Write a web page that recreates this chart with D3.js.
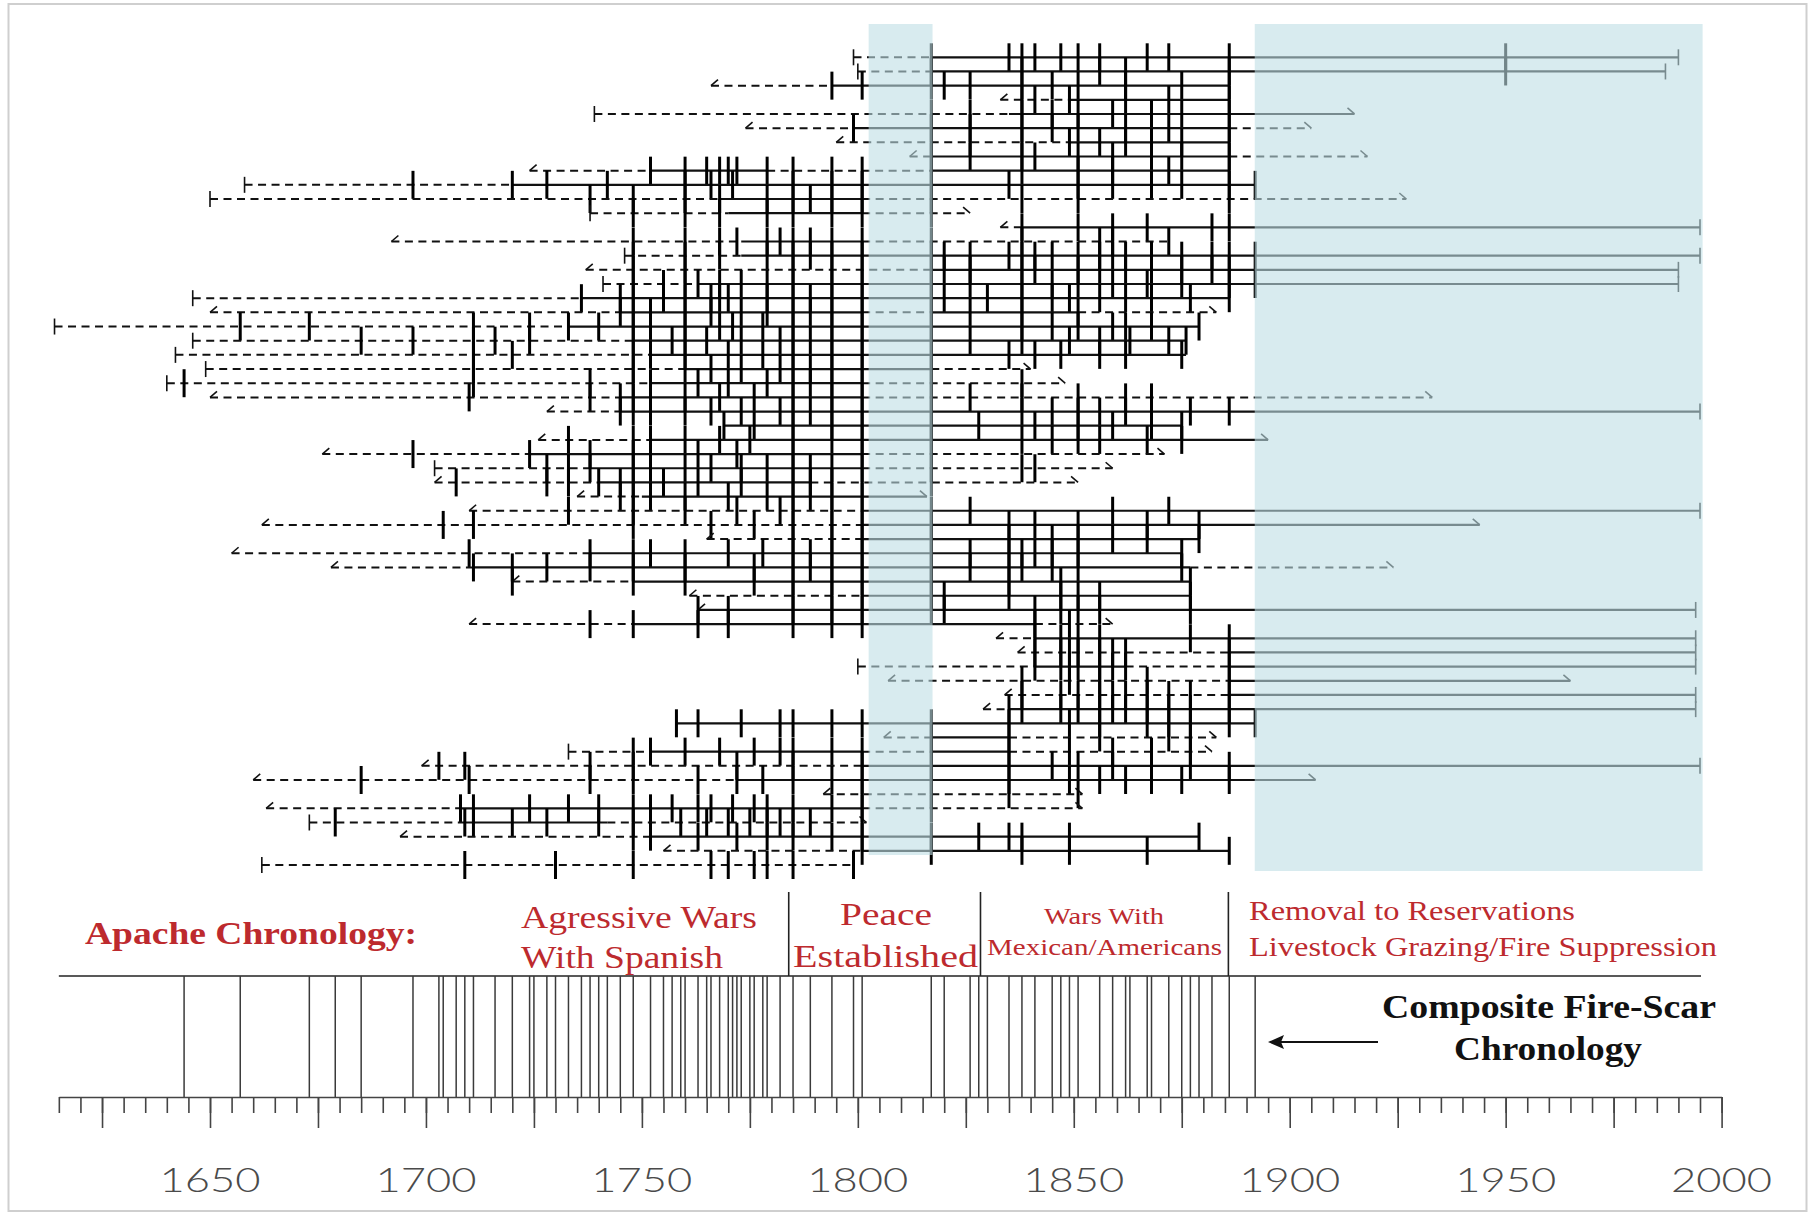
<!DOCTYPE html>
<html>
<head>
<meta charset="utf-8">
<script src="https://cdn.jsdelivr.net/npm/d3@7"></script>
<style>
  html, body { margin: 0; padding: 0; background: #fff; }
  svg { display: block; }
</style>
</head>
<body>
<svg id="chart" width="1820" height="1214"></svg>
<script>
// ---- Fire-scar record, one entry per sampled tree (top to bottom) ----
// first ring year of each series; kind "p" = pith date, "i" = inner ring (pith not reached)
const treeStart = [1799,1800,1766,1833,1739,1774,1795,1812,1724,1658,
                   1650,1738,1833,1692,1746,1737,1741,1646,1650,1614,
                   1646,1642,1649,1640,1650,1728,1769,1726,1676,1702,
                   1702,1735,1710,1662,1765,1655,1678,1720,1761,1763,
                   1710,1832,1837,1800,1807,1834,1829,1758,1806,1733,
                   1699,1660,1792,1663,1673,1694,1755,1662];
const treeStartKind = ["p","p","i","i","p","i","i","i","i","p",
                       "p","p","i","i","p","i","p","p","i","p",
                       "p","p","p","p","i","i","p","i","i","p",
                       "i","i","i","i","i","i","i","i","i","i",
                       "i","i","i","p","i","i","i","p","i","p",
                       "i","i","i","i","p","i","i","p"];
// last ring year; kind "b" = bark date, "o" = outer ring (bark not reached), "n" = ends on a scar
const treeEnd = [1990,1987,1886,1886,1915,1905,1886,1918,1886,1892,
                 1927,1826,1995,1872,1995,1990,1990,1886,1883,1879,
                 1876,1876,1840,1848,1933,1995,1875,1895,1871,1859,
                 1851,1816,1995,1944,1879,1875,1924,1877,1877,1994,
                 1859,1994,1994,1994,1965,1994,1994,1892,1883,1882,
                 1995,1906,1852,1852,1802,1879,1886,1799];
const treeEndKind = ["b","b","n","n","o","o","n","o","n","b",
                     "o","o","b","n","b","b","b","n","o","n",
                     "n","n","o","o","o","b","n","o","o","o",
                     "o","o","b","o","b","n","o","n","n","b",
                     "o","b","b","b","o","b","b","b","o","o",
                     "b","o","o","o","o","b","n","b"];
// recorder years (solid); everything else in the series is non-recording (dashed)
const treeRecorder = [
  [[1817,1990]],[[1817,1987]],[[1794,1886]],[[1849,1886]],[[1835,1915]],
  [[1799,1886]],[[1849,1886]],[[1817,1886]],[[1752,1779],[1817,1886]],[[1720,1892]],
  [[1768,1801]],[[1770,1801]],[[1838,1995]],[[1773,1801]],[[1773,1995]],
  [[1817,1990]],[[1763,1990]],[[1736,1886]],[[1745,1801],[1817,1851]],[[1733,1879]],
  [[1748,1876]],[[1752,1876]],[[1760,1817]],[[1752,1801]],[[1745,1801]],
  [[1745,1995]],[[1769,1875]],[[1752,1895]],[[1724,1801]],[[1738,1801]],
  [[1740,1789]],[[1750,1816]],[[1801,1995]],[[1801,1944]],[[1801,1879]],
  [[1738,1875]],[[1711,1877]],[[1748,1877]],[[1801,1877]],[[1763,1994]],
  [[1748,1841]],[[1841,1994]],[[1886,1994]],[[1841,1862],[1886,1994]],[[1886,1965]],
  [[1886,1994]],[[1835,1994]],[[1758,1892]],[[1817,1835]],[[1752,1801],[1817,1835]],
  [[1801,1995]],[[1772,1906]],[],[[1708,1801]],[[1709,1742]],
  [[1752,1879]],[[1801,1886]],[]
];
// fire-scar years recorded by each tree
const treeScars = [
  [1817,1835,1838,1841,1847,1851,1856,1867,1872,1886,1950],
  [1817,1838,1856,1862,1886,1950],
  [1794,1801,1817,1820,1826,1838,1845,1851,1862,1875,1886],
  [1838,1841,1849,1862,1872,1886],
  [1817,1826,1838,1845,1851,1859,1868,1875,1886],
  [1799,1817,1826,1838,1845,1851,1862,1872,1886],
  [1817,1826,1838,1849,1856,1862,1868,1875,1886],
  [1817,1826,1838,1841,1851,1859,1868,1875,1886],
  [1752,1760,1765,1768,1770,1772,1779,1785,1794,1801,1817,1838,1851,1859,1872,1886],
  [1697,1720,1728,1742,1760,1766,1771,1785,1794,1801,1817,1835,1851,1859,1868,1875,1886,1892],
  [1738,1748,1760,1768,1779,1785,1789,1794,1801,1817,1838,1851,1886],
  [1748,1760,1768,1779,1785,1794,1801,1817],
  [1838,1851,1859,1867,1882,1886],
  [1748,1760,1768,1772,1779,1782,1785,1789,1794,1801,1817,1838,1856,1859,1872],
  [1748,1760,1768,1779,1785,1789,1794,1801,1817,1820,1826,1835,1838,1841,1845,1851,1856,1859,1862,1868,1875,1882,1886,1892],
  [1748,1760,1785,1794,1801,1817,1820,1826,1838,1841,1851,1856,1862,1868,1875,1882,1886],
  [1748,1755,1760,1763,1768,1773,1779,1785,1794,1801,1817,1826,1838,1845,1851,1859,1867,1875,1886,1892],
  [1736,1745,1748,1755,1760,1766,1768,1770,1779,1785,1789,1794,1801,1817,1820,1830,1838,1845,1849,1856,1862,1868,1877,1886],
  [1745,1748,1752,1760,1766,1773,1779,1785,1789,1794,1801,1817,1826,1838,1851],
  [1657,1673,1711,1724,1733,1740,1748,1752,1760,1768,1771,1778,1785,1794,1801,1817,1838,1845,1851,1859,1862,1868,1879],
  [1685,1697,1711,1716,1724,1748,1757,1760,1765,1773,1782,1785,1789,1794,1801,1817,1826,1838,1849,1856,1863,1872,1876],
  [1711,1720,1748,1752,1760,1770,1778,1785,1794,1801,1817,1835,1841,1847,1856,1862,1875],
  [1711,1748,1760,1766,1773,1782,1785,1789,1794,1801,1817],
  [1644,1711,1738,1748,1752,1763,1770,1779,1785,1789,1794,1801,1817,1838],
  [1710,1738,1745,1748,1752,1760,1768,1776,1785,1794,1801,1817,1826,1838,1851,1862,1868],
  [1745,1748,1752,1760,1766,1773,1782,1785,1789,1794,1801,1817,1838,1845,1851,1856,1862,1868,1877,1886],
  [1769,1776,1785,1794,1801,1817,1828,1841,1851,1859,1868,1875],
  [1733,1748,1752,1760,1768,1775,1785,1794,1801,1817,1838,1845,1851,1856,1867,1875],
  [1697,1724,1738,1748,1752,1763,1772,1785,1801,1817],
  [1728,1733,1738,1748,1752,1760,1766,1773,1779,1785,1789,1794,1801,1817,1838,1841],
  [1707,1728,1733,1740,1745,1748,1755,1763,1773,1785,1789,1794,1801,1817],
  [1745,1748,1752,1760,1770,1779,1785,1789,1794,1801],
  [1733,1748,1760,1772,1782,1785,1794,1801,1817,1826,1859,1872],
  [1704,1711,1748,1766,1776,1785,1794,1801,1817,1835,1841,1851,1867,1879],
  [1785,1794,1801,1817,1835,1845,1851,1859,1867,1879],
  [1710,1738,1748,1752,1760,1770,1778,1785,1789,1794,1801,1817,1826,1835,1838,1841,1845,1851,1875],
  [1711,1720,1728,1738,1748,1760,1776,1785,1789,1794,1801,1817,1826,1835,1838,1845,1851,1875],
  [1720,1748,1760,1776,1785,1794,1801,1817,1835,1847,1877],
  [1785,1794,1801,1817,1820,1835,1847,1851,1856,1877],
  [1763,1770,1785,1794,1801,1817,1820,1841,1847,1851,1856,1877],
  [1738,1748,1763,1770,1785,1794,1801,1841,1849],
  [1841,1847,1851,1856,1877,1886],
  [1841,1847,1849,1851,1856,1859,1862,1886],
  [1841,1847,1849,1851,1856,1859,1862,1886],
  [1838,1849,1856,1867,1886],
  [1838,1847,1851,1856,1859,1862,1867,1872,1877,1886],
  [1835,1838,1847,1851,1856,1859,1862,1867,1872,1877,1886],
  [1758,1763,1773,1782,1785,1794,1801,1817,1835,1849,1856,1867,1872,1877,1886,1892],
  [1817,1835,1856,1872,1877],
  [1748,1752,1760,1768,1776,1782,1785,1794,1801,1817,1835,1849,1859,1868,1877],
  [1703,1709,1738,1748,1772,1785,1801,1817,1835,1845,1851,1859,1868,1877,1886],
  [1685,1710,1738,1748,1763,1772,1778,1785,1794,1801,1817,1835,1849,1856,1862,1868,1875,1886],
  [1801,1817,1835,1851],
  [1708,1711,1724,1733,1740,1748,1752,1757,1763,1766,1771,1776,1779,1785,1794,1801,1817],
  [1679,1709,1711,1720,1728,1740,1748,1759,1765,1770,1775,1779,1782,1785,1789,1801],
  [1748,1752,1763,1772,1779,1785,1794,1801,1817,1828,1835,1838,1849,1879],
  [1801,1817,1838,1849,1867,1886],
  [1709,1730,1748,1766,1770,1776,1779,1785,1799]
];

// composite fire-scar chronology (site-wide fire years)
const compositeYears = [1644,1657,1673,1679,1685,1697,1703,1704,1707,1709,1711,1716,1720,1724,1725,
  1728,1730,1733,1736,1738,1740,1742,1745,1748,1752,1755,1757,1759,1760,1763,1765,1766,1768,
  1770,1771,1772,1773,1775,1776,1778,1779,1782,1785,1789,1794,1799,1801,1817,1820,1826,1828,
  1830,1835,1838,1841,1845,1847,1849,1851,1856,1859,1862,1863,1867,1868,1872,1875,1877,1879,
  1882,1886,1892];

// historical periods
const periodBreaks = [1784, 1828.4, 1885.8];
const shadedPeriods = [[1802.5, 1817.3], [1891.9, 1995.6]];

// axis
const axisLabels = [1650, 1700, 1750, 1800, 1850, 1900, 1950, 2000];
const minorTicks = d3.range(1615, 2001, 5);
const majorTicks = d3.range(1625, 2001, 25);

// ---- scales ----
const x = d3.scaleLinear().domain([1650, 2000]).range([210, 1721.6]);
const y = d3.scalePoint().domain(d3.range(treeStart.length)).range([57.3, 865]);

const svg = d3.select("#chart");
const ink = "#111";

// frame
svg.append("rect")
  .attr("x", 8.5).attr("y", 4).attr("width", 1798).attr("height", 1207)
  .attr("fill", "none").attr("stroke", "#cfcfcf").attr("stroke-width", 2);

// ---- tree series ----
function pieces(i) {
  const s = treeStart[i], e = treeEnd[i];
  const spans = treeRecorder[i]
    .map(([a, b]) => [Math.max(a, s), Math.min(b, e)])
    .filter(([a, b]) => b > a)
    .sort((p, q) => p[0] - q[0]);
  const out = [];
  let cur = s;
  for (const [a, b] of spans) {
    if (a > cur) out.push({ a: cur, b: a, solid: false });
    out.push({ a: Math.max(a, cur), b, solid: true });
    cur = b;
  }
  if (cur < e) out.push({ a: cur, b: e, solid: false });
  return out;
}

const trees = svg.append("g").attr("class", "trees");
const rows = trees.selectAll("g.tree")
  .data(d3.range(treeStart.length))
  .join("g").attr("class", "tree")
  .attr("transform", i => `translate(0,${y(i)})`);

rows.selectAll("line.seg")
  .data(i => pieces(i))
  .join("line").attr("class", "seg")
  .attr("x1", d => x(d.a)).attr("x2", d => x(d.b))
  .attr("y1", 0).attr("y2", 0)
  .attr("stroke", ink)
  .attr("stroke-width", d => d.solid ? 2.2 : 2)
  .attr("stroke-dasharray", d => d.solid ? null : "8,5.5");

// pith / inner-ring markers
rows.append("path")
  .attr("d", i => {
    const sx = x(treeStart[i]);
    return treeStartKind[i] === "p" ? `M${sx},-8V8` : `M${sx},0L${sx + 7},-6`;
  })
  .attr("stroke", ink).attr("stroke-width", 1.6).attr("fill", "none");

// bark / outer-ring markers
rows.filter(i => treeEndKind[i] !== "n").append("path")
  .attr("d", i => {
    const ex = x(treeEnd[i]);
    return treeEndKind[i] === "b" ? `M${ex},-8V8` : `M${ex - 7},-6L${ex},0`;
  })
  .attr("stroke", ink).attr("stroke-width", 1.6).attr("fill", "none");

// fire scars
rows.selectAll("line.scar")
  .data(i => treeScars[i])
  .join("line").attr("class", "scar")
  .attr("x1", d => x(d)).attr("x2", d => x(d))
  .attr("y1", -14).attr("y2", 14)
  .attr("stroke", "#000").attr("stroke-width", 3);

// ---- shaded periods (translucent, so series beneath read as grey) ----
svg.append("g").selectAll("rect")
  .data(shadedPeriods)
  .join("rect")
  .attr("x", d => x(d[0]))
  .attr("width", d => x(d[1]) - x(d[0]))
  .attr("y", 24)
  .attr("height", (d, k) => k === 0 ? 831 : 847)
  .attr("fill", "rgb(190,222,229)")
  .attr("fill-opacity", 0.6);

// ---- period labels ----
const red = "#bd2a2e";
const serif = "'Liberation Serif', 'Times New Roman', serif";
const labels = svg.append("g").attr("font-family", serif);
function label(txt, x0, base, len, size, weight, fill) {
  labels.append("text")
    .attr("x", x0).attr("y", base)
    .attr("font-size", size).attr("font-weight", weight || "normal")
    .attr("fill", fill || red)
    .attr("textLength", len).attr("lengthAdjust", "spacingAndGlyphs")
    .text(txt);
}
label("Apache Chronology:", 85, 944, 332, 32, "bold");
label("Agressive Wars", 521, 928, 236, 31);
label("With Spanish", 521, 968, 202, 31);
label("Peace", 840, 925, 92, 31);
label("Established", 793, 967, 185, 31);
label("Wars With", 1044, 924, 120, 24);
label("Mexican/Americans", 987, 955, 235, 24);
label("Removal to Reservations", 1249, 920, 326, 28);
label("Livestock Grazing/Fire Suppression", 1249, 956, 468, 28);
label("Composite Fire-Scar", 1382, 1018, 334, 34, "bold", "#111");
label("Chronology", 1454, 1060, 188, 34, "bold", "#111");

// period separators and baseline of composite panel
svg.append("g").selectAll("line")
  .data(periodBreaks)
  .join("line")
  .attr("x1", d => x(d)).attr("x2", d => x(d))
  .attr("y1", 892).attr("y2", 976)
  .attr("stroke", "#222").attr("stroke-width", 1.6);
svg.append("line")
  .attr("x1", x(1615)).attr("x2", 1701)
  .attr("y1", 976).attr("y2", 976)
  .attr("stroke", "#222").attr("stroke-width", 1.6);

// arrow pointing at composite
svg.append("line")
  .attr("x1", 1378).attr("x2", 1280).attr("y1", 1042).attr("y2", 1042)
  .attr("stroke", "#111").attr("stroke-width", 2);
svg.append("path")
  .attr("d", "M1268,1042L1284,1035L1281,1042L1284,1049Z")
  .attr("fill", "#111");

// ---- composite chronology ----
svg.append("g").selectAll("line")
  .data(compositeYears)
  .join("line")
  .attr("x1", d => x(d)).attr("x2", d => x(d))
  .attr("y1", 976).attr("y2", 1097)
  .attr("stroke", "#3a3a3a").attr("stroke-width", 1.5);

// ---- time axis ----
const axisScale = x.copy().domain([1615, 2000]).range([x(1615), x(2000)]);
const axisG = svg.append("g").attr("transform", "translate(0,1097)");
axisG.append("g")
  .call(d3.axisBottom(axisScale).tickValues(minorTicks).tickSize(16).tickSizeOuter(0).tickFormat(""));
axisG.append("g")
  .call(d3.axisBottom(axisScale).tickValues(majorTicks).tickSize(31).tickSizeOuter(0).tickFormat(""))
  .select(".domain").remove();
axisG.selectAll("path, line").attr("stroke", "#444").attr("stroke-width", 1.6);

svg.append("g").selectAll("text")
  .data(axisLabels)
  .join("text")
  .attr("x", d => x(d)).attr("y", 1192)
  .attr("text-anchor", "middle")
  .attr("font-family", "Lato, 'Open Sans', 'Liberation Sans', sans-serif")
  .attr("font-weight", 300)
  .attr("font-size", 34)
  .attr("fill", "#4a4a4a")
  .attr("textLength", 101).attr("lengthAdjust", "spacingAndGlyphs")
  .text(d => d);
</script>
</body>
</html>
